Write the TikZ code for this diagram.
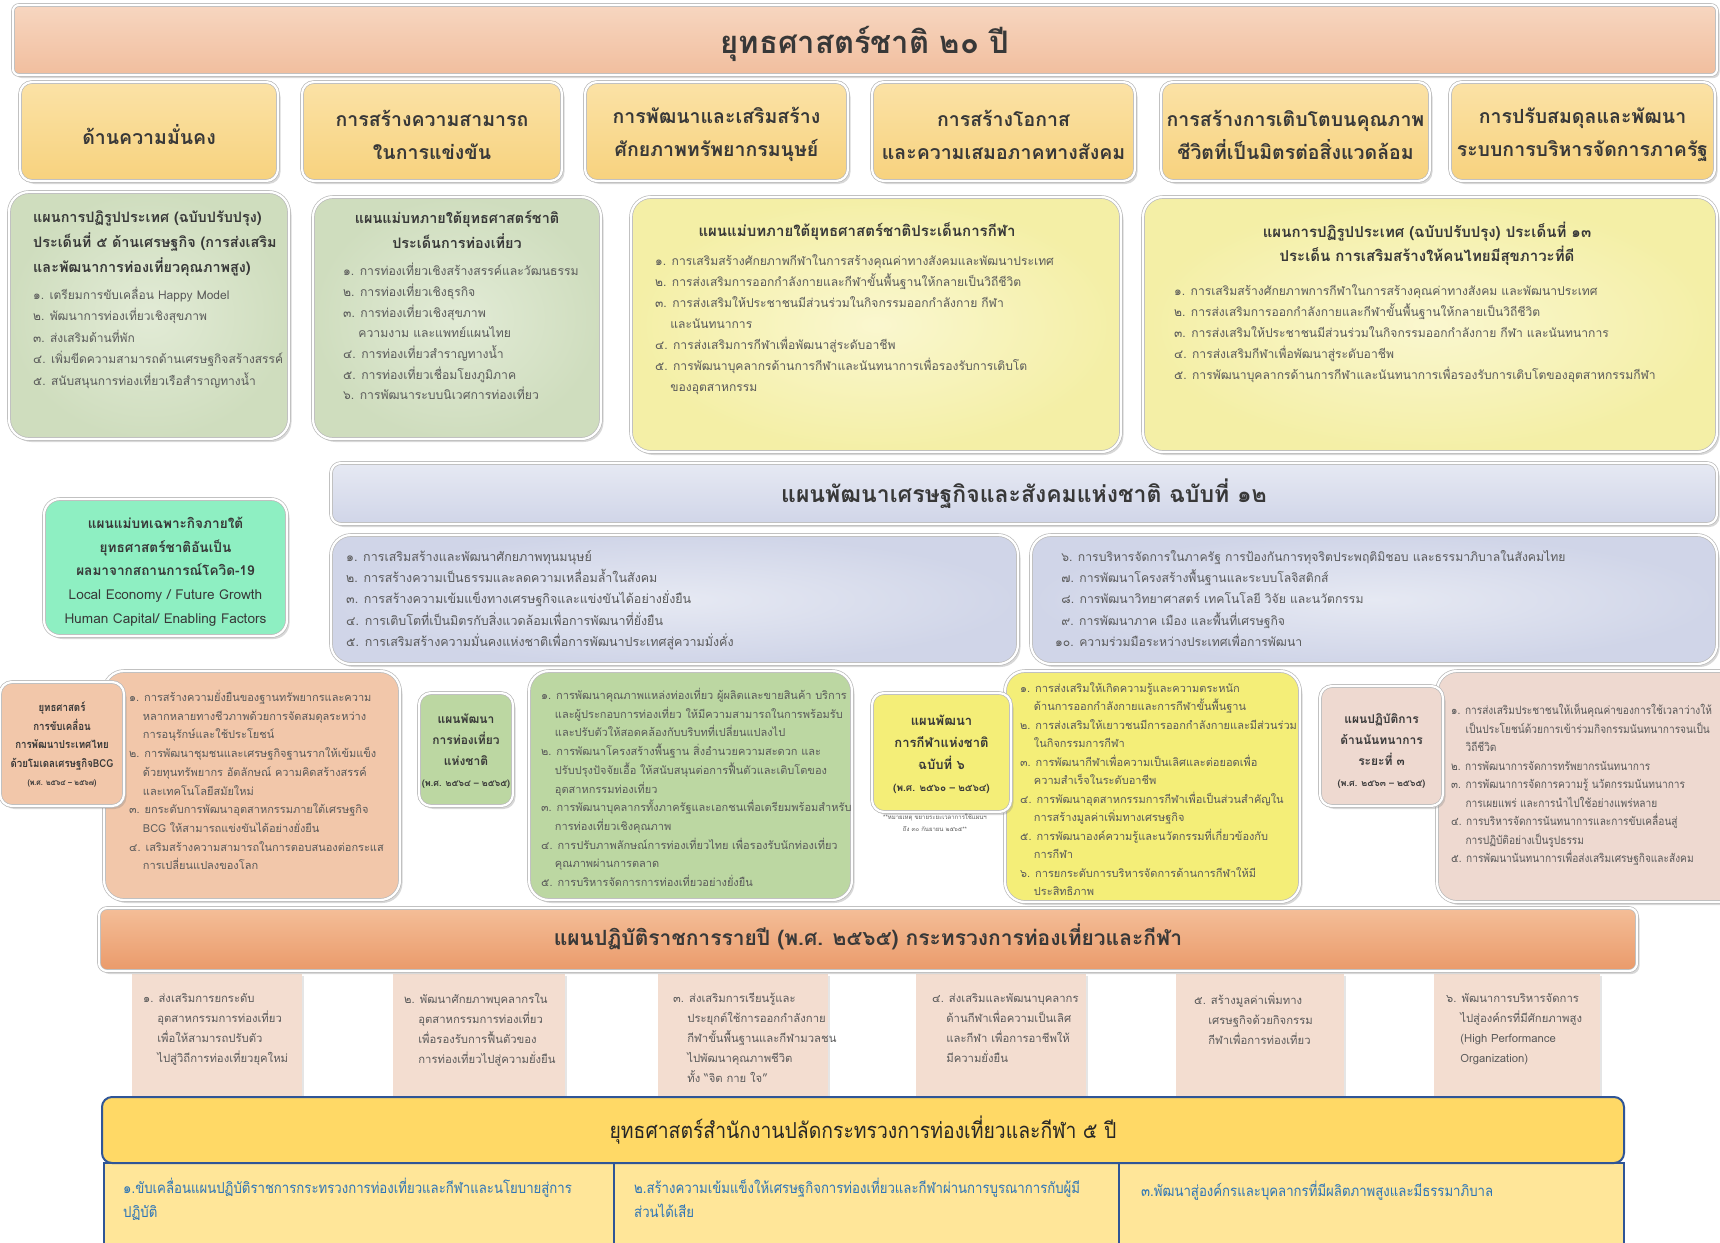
\documentclass[tikz,border=0pt]{standalone}
\usepackage{fontspec}
\setmainfont[Script=Thai]{Loma}
\newfontfamily\cond[Script=Thai,FakeStretch=0.88]{Loma}
\usetikzlibrary{shadows,fit}
\definecolor{peach}{HTML}{F1BE9E}
\definecolor{peachlt}{HTML}{F7D6C0}
\definecolor{gold}{HTML}{F7D27E}
\definecolor{goldlt}{HTML}{FBE2A6}
\definecolor{sage}{HTML}{CFDDBE}
\definecolor{sagelt}{HTML}{E2EBD6}
\definecolor{cream}{HTML}{F4EFA6}
\definecolor{creamlt}{HTML}{FAF7CF}
\definecolor{mint}{HTML}{8EEFC2}
\definecolor{lav}{HTML}{D0D5E8}
\definecolor{lavlt}{HTML}{E6E9F3}
\definecolor{bcg}{HTML}{F2C7AA}
\definecolor{tgreen}{HTML}{BCD7A2}
\definecolor{syellow}{HTML}{F4EE78}
\definecolor{rpink}{HTML}{EED9D0}
\definecolor{orangeh}{HTML}{EA9A6A}
\definecolor{orangelt}{HTML}{F4BE98}
\definecolor{pinkbox}{HTML}{F3DDD0}
\definecolor{bgold}{HTML}{FFD966}
\definecolor{bgoldlt}{HTML}{FFE699}
\definecolor{navy}{HTML}{2F5597}
\definecolor{bluetxt}{HTML}{2E75B6}
\definecolor{txt}{HTML}{383838}
\definecolor{txtl}{HTML}{5A5A5A}
\newcommand\fs[2]{\fontsize{#1}{#2}\selectfont}
\newcommand\bx[6]{\node[#2, fit={(#3,#4) (#5,#6)}] (#1) {};}
\newcommand\tbx[8]{\node[#2, fit={(#3,#4) (#5,#6)}] (#1) {};
  \node[ct, #7] (#1t) at (#1.center) {#8};}
\newcommand\ind{\hspace*{1.25em}}
\tikzset{
 sh/.style={drop shadow={shadow xshift=2.5pt,shadow yshift=-3pt,opacity=0.3}},
 rim/.style={draw=gray!55, line width=0.7pt, double=white, double distance=2.2pt},
 rb/.style={rounded corners=20pt, rim, inner sep=0pt, sh},
 hdr/.style={rounded corners=8pt, rim, inner sep=0pt, sh},
 sbox/.style={hdr, rounded corners=12pt, top color=goldlt, bottom color=gold},
 stxt/.style={font={\fs{19.5}{33}\bfseries}, yshift=-3pt},
 tbox/.style={rb, rounded corners=12pt},
 ct/.style={align=center, inner sep=0pt, text=txt},
 lst/.style={anchor=north west, inner sep=0pt, align=left, text=txtl},
 hd/.style={inner sep=0pt, text=txt},
 pb/.style={fill=pinkbox, draw=none, inner sep=0pt, drop shadow={shadow xshift=2pt,shadow yshift=-2pt,opacity=0.2}},
 bb/.style={draw=navy, line width=2pt, fill=bgoldlt, inner sep=0pt},
}
\begin{document}
\begin{tikzpicture}[x=1pt,y=-1pt]
\useasboundingbox (0,0) rectangle (1720,1242);
\fill[white] (0,0) rectangle (1720,1242);

% title
\tbx{title}{hdr, rounded corners=6pt, top color=peachlt, bottom color=peach}{13}{5}{1717}{75}{font={\fs{31}{36}\bfseries}, yshift=-3.5pt}{ยุทธศาสตร์ชาติ ๒๐ ปี}

% six strategies
\tbx{s1}{sbox}{20}{82}{278}{181}{stxt}{ด้านความมั่นคง}
\tbx{s2}{sbox}{302}{82}{562}{181}{stxt}{การสร้างความสามารถ\\ในการแข่งขัน}
\tbx{s3}{sbox}{585}{82}{848}{181}{stxt}{การพัฒนาและเสริมสร้าง\\ศักยภาพทรัพยากรมนุษย์}
\tbx{s4}{sbox}{872}{82}{1135}{181}{stxt}{การสร้างโอกาส\\และความเสมอภาคทางสังคม}
\tbx{s5}{sbox}{1161}{82}{1430}{181}{stxt}{การสร้างการเติบโตบนคุณภาพ\\ชีวิตที่เป็นมิตรต่อสิ่งแวดล้อม}
\tbx{s6}{sbox}{1450}{82}{1715}{181}{stxt}{การปรับสมดุลและพัฒนา\\ระบบการบริหารจัดการภาครัฐ}

% row 3
\bx{g1}{rb, inner color=sagelt, outer color=sage}{9}{192}{289}{439}
\node[hd, anchor=north west, align=left, font={\fs{14.4}{25}\bfseries}] (g1h) at (33,210) {แผนการปฏิรูปประเทศ (ฉบับปรับปรุง)\\ประเด็นที่ ๕ ด้านเศรษฐกิจ (การส่งเสริม\\และพัฒนาการท่องเที่ยวคุณภาพสูง)};
\node[lst, font={\fs{12}{21.4}}] (g1l) at (33,287) {๑. เตรียมการขับเคลื่อน Happy Model\\๒. พัฒนาการท่องเที่ยวเชิงสุขภาพ\\๓. ส่งเสริมด้านที่พัก\\๔. เพิ่มขีดความสามารถด้านเศรษฐกิจสร้างสรรค์\\๕. สนับสนุนการท่องเที่ยวเรือสำราญทางน้ำ};

\bx{g2}{rb, inner color=sagelt, outer color=sage}{313}{197}{601}{439}
\node[hd, anchor=north, align=center, font={\fs{14.4}{25}\bfseries}] (g2h) at (457,211) {แผนแม่บทภายใต้ยุทธศาสตร์ชาติ\\ประเด็นการท่องเที่ยว};
\node[lst, font={\fs{12.2}{20.7}}] (g2l) at (343,263) {๑. การท่องเที่ยวเชิงสร้างสรรค์และวัฒนธรรม\\๒. การท่องเที่ยวเชิงธุรกิจ\\๓. การท่องเที่ยวเชิงสุขภาพ\\\ind ความงาม และแพทย์แผนไทย\\๔. การท่องเที่ยวสำราญทางน้ำ\\๕. การท่องเที่ยวเชื่อมโยงภูมิภาค\\๖. การพัฒนาระบบนิเวศการท่องเที่ยว};

\bx{y3}{rb, inner color=creamlt, outer color=cream}{631}{197}{1121}{452}
\node[hd, anchor=north, font={\fs{15}{25}\bfseries}] (y3h) at (857,222) {แผนแม่บทภายใต้ยุทธศาสตร์ชาติประเด็นการกีฬา};
\node[lst, font={\fs{12.1}{21}}] (y3l) at (655,254) {๑. การเสริมสร้างศักยภาพกีฬาในการสร้างคุณค่าทางสังคมและพัฒนาประเทศ\\๒. การส่งเสริมการออกกำลังกายและกีฬาขั้นพื้นฐานให้กลายเป็นวิถีชีวิต\\๓. การส่งเสริมให้ประชาชนมีส่วนร่วมในกิจกรรมออกกำลังกาย กีฬา\\\ind และนันทนาการ\\๔. การส่งเสริมการกีฬาเพื่อพัฒนาสู่ระดับอาชีพ\\๕. การพัฒนาบุคลากรด้านการกีฬาและนันทนาการเพื่อรองรับการเติบโต\\\ind ของอุตสาหกรรม};

\bx{y4}{rb, inner color=creamlt, outer color=cream}{1143}{197}{1717}{452}
\node[hd, anchor=north, align=center, font={\fs{15}{24}\bfseries}] (y4h) at (1427,222) {แผนการปฏิรูปประเทศ (ฉบับปรับปรุง) ประเด็นที่ ๑๓\\ประเด็น การเสริมสร้างให้คนไทยมีสุขภาวะที่ดี};
\node[lst, font={\fs{12.1}{21}}] (y4l) at (1174,284) {๑. การเสริมสร้างศักยภาพการกีฬาในการสร้างคุณค่าทางสังคม และพัฒนาประเทศ\\๒. การส่งเสริมการออกกำลังกายและกีฬาขั้นพื้นฐานให้กลายเป็นวิถีชีวิต\\๓. การส่งเสริมให้ประชาชนมีส่วนร่วมในกิจกรรมออกกำลังกาย กีฬา และนันทนาการ\\๔. การส่งเสริมกีฬาเพื่อพัฒนาสู่ระดับอาชีพ\\๕. การพัฒนาบุคลากรด้านการกีฬาและนันทนาการเพื่อรองรับการเติบโตของอุตสาหกรรมกีฬา};

% row 4
\tbx{cv}{tbox, rounded corners=16pt, fill=mint}{44}{499}{287}{636}{font={\fs{13.6}{23.7}}, yshift=-4pt}{\textbf{แผนแม่บทเฉพาะกิจภายใต้}\\\textbf{ยุทธศาสตร์ชาติอันเป็น}\\\textbf{ผลมาจากสถานการณ์โควิด-19}\\Local Economy / Future Growth\\Human Capital/ Enabling Factors}

\tbx{np}{hdr, rounded corners=10pt, top color=lavlt, bottom color=lav}{331}{463}{1717}{524}{font={\fs{23}{26}\bfseries}, yshift=0pt}{แผนพัฒนาเศรษฐกิจและสังคมแห่งชาติ ฉบับที่ ๑๒}
\bx{npl}{rb, inner color=lavlt, outer color=lav}{331}{535}{1018}{664}
\node[lst, font={\fs{12.5}{21.3}}] (npll) at (346,550) {๑. การเสริมสร้างและพัฒนาศักยภาพทุนมนุษย์\\๒. การสร้างความเป็นธรรมและลดความเหลื่อมล้ำในสังคม\\๓. การสร้างความเข้มแข็งทางเศรษฐกิจและแข่งขันได้อย่างยั่งยืน\\๔. การเติบโตที่เป็นมิตรกับสิ่งแวดล้อมเพื่อการพัฒนาที่ยั่งยืน\\๕. การเสริมสร้างความมั่นคงแห่งชาติเพื่อการพัฒนาประเทศสู่ความมั่งคั่ง};
\bx{npr}{rb, inner color=lavlt, outer color=lav}{1031}{535}{1717}{664}
\node[lst, font={\fs{12.2}{21.3}}] (nprl) at (1055,550) {\ \,๖. การบริหารจัดการในภาครัฐ การป้องกันการทุจริตประพฤติมิชอบ และธรรมาภิบาลในสังคมไทย\\\ \,๗. การพัฒนาโครงสร้างพื้นฐานและระบบโลจิสติกส์\\\ \,๘. การพัฒนาวิทยาศาสตร์ เทคโนโลยี วิจัย และนวัตกรรม\\\ \,๙. การพัฒนาภาค เมือง และพื้นที่เศรษฐกิจ\\๑๐. ความร่วมมือระหว่างประเทศเพื่อการพัฒนา};

% row 5
\bx{bcgl}{rb, fill=bcg}{104}{671}{400}{900}
\node[lst, font={\fs{11}{18.7}}] (bcgll) at (129,690) {๑. การสร้างความยั่งยืนของฐานทรัพยากรและความ\\\ind หลากหลายทางชีวภาพด้วยการจัดสมดุลระหว่าง\\\ind การอนุรักษ์และใช้ประโยชน์\\๒. การพัฒนาชุมชนและเศรษฐกิจฐานรากให้เข้มแข็ง\\\ind ด้วยทุนทรัพยากร อัตลักษณ์ ความคิดสร้างสรรค์\\\ind และเทคโนโลยีสมัยใหม่\\๓. ยกระดับการพัฒนาอุตสาหกรรมภายใต้เศรษฐกิจ\\\ind BCG ให้สามารถแข่งขันได้อย่างยั่งยืน\\๔. เสริมสร้างความสามารถในการตอบสนองต่อกระแส\\\ind การเปลี่ยนแปลงของโลก};
\tbx{bcgt}{tbox, fill=bcg}{0}{682}{124}{806}{font={\cond\fs{11}{18.5}\bfseries}, yshift=-1pt}{ยุทธศาสตร์\\การขับเคลื่อน\\การพัฒนาประเทศไทย\\ด้วยโมเดลเศรษฐกิจBCG\\{\fs{8}{17}(พ.ศ. ๒๕๖๔ – ๒๕๖๗)}}

\tbx{tt}{tbox, fill=tgreen}{419}{693}{513}{806}{font={\fs{12}{21}\bfseries}, yshift=-2pt}{แผนพัฒนา\\การท่องเที่ยว\\แห่งชาติ\\{\fs{9}{20}(พ.ศ. ๒๕๖๔ – ๒๕๖๕)}}
\bx{tl}{rb, fill=tgreen}{529}{671}{852}{900}
\node[lst, font={\fs{11}{18.7}}] (tll) at (541,688) {๑. การพัฒนาคุณภาพแหล่งท่องเที่ยว ผู้ผลิตและขายสินค้า บริการ\\\ind และผู้ประกอบการท่องเที่ยว ให้มีความสามารถในการพร้อมรับ\\\ind และปรับตัวให้สอดคล้องกับบริบทที่เปลี่ยนแปลงไป\\๒. การพัฒนาโครงสร้างพื้นฐาน สิ่งอำนวยความสะดวก และ\\\ind ปรับปรุงปัจจัยเอื้อ ให้สนับสนุนต่อการฟื้นตัวและเติบโตของ\\\ind อุตสาหกรรมท่องเที่ยว\\๓. การพัฒนาบุคลากรทั้งภาครัฐและเอกชนเพื่อเตรียมพร้อมสำหรับ\\\ind การท่องเที่ยวเชิงคุณภาพ\\๔. การปรับภาพลักษณ์การท่องเที่ยวไทย เพื่อรองรับนักท่องเที่ยว\\\ind คุณภาพผ่านการตลาด\\๕. การบริหารจัดการการท่องเที่ยวอย่างยั่งยืน};

\bx{sl}{rb, fill=syellow}{1005}{671}{1300}{902}
\tbx{st}{tbox, fill=syellow}{872}{693}{1011}{812}{font={\fs{13}{22}\bfseries}, yshift=-2pt}{แผนพัฒนา\\การกีฬาแห่งชาติ\\ฉบับที่ ๖\\{\fs{10}{22}(พ.ศ. ๒๕๖๐ – ๒๕๖๔)}}
\node[anchor=north, inner sep=0pt, align=center, text=txtl, font={\fs{6}{12}}] (stn) at (935,814) {**หมายเหตุ ขยายระยะเวลาการใช้แผนฯ\\ถึง ๓๐ กันยายน ๒๕๖๕**};
\node[lst, font={\fs{11}{18.5}}] (sll) at (1020,682) {๑. การส่งเสริมให้เกิดความรู้และความตระหนัก\\\ind ด้านการออกกำลังกายและการกีฬาขั้นพื้นฐาน\\๒. การส่งเสริมให้เยาวชนมีการออกกำลังกายและมีส่วนร่วม\\\ind ในกิจกรรมการกีฬา\\๓. การพัฒนากีฬาเพื่อความเป็นเลิศและต่อยอดเพื่อ\\\ind ความสำเร็จในระดับอาชีพ\\๔. การพัฒนาอุตสาหกรรมการกีฬาเพื่อเป็นส่วนสำคัญใน\\\ind การสร้างมูลค่าเพิ่มทางเศรษฐกิจ\\๕. การพัฒนาองค์ความรู้และนวัตกรรมที่เกี่ยวข้องกับ\\\ind การกีฬา\\๖. การยกระดับการบริหารจัดการด้านการกีฬาให้มี\\\ind ประสิทธิภาพ};

\bx{rl}{rb, fill=rpink}{1437}{671}{1745}{902}
\tbx{rt}{tbox, fill=rpink}{1320}{686}{1443}{806}{font={\fs{12}{21}\bfseries}, yshift=-5pt}{แผนปฏิบัติการ\\ด้านนันทนาการ\\ระยะที่ ๓\\{\fs{9}{18}(พ.ศ. ๒๕๖๓ – ๒๕๖๕)}}
\node[lst, font={\cond\fs{11.5}{18.5}}] (rll) at (1451,704) {๑. การส่งเสริมประชาชนให้เห็นคุณค่าของการใช้เวลาว่างให้\\\ind เป็นประโยชน์ด้วยการเข้าร่วมกิจกรรมนันทนาการจนเป็น\\\ind วิถีชีวิต\\๒. การพัฒนาการจัดการทรัพยากรนันทนาการ\\๓. การพัฒนาการจัดการความรู้ นวัตกรรมนันทนาการ\\\ind การเผยแพร่ และการนำไปใช้อย่างแพร่หลาย\\๔. การบริหารจัดการนันทนาการและการขับเคลื่อนสู่\\\ind การปฏิบัติอย่างเป็นรูปธรรม\\๕. การพัฒนานันทนาการเพื่อส่งเสริมเศรษฐกิจและสังคม};

% row 6 boxes
\bx{p1}{pb}{132}{974}{302}{1100}
\bx{p2}{pb}{393}{974}{565}{1100}
\bx{p3}{pb}{658}{974}{828}{1100}
\bx{p4}{pb}{916}{974}{1086}{1100}
\bx{p5}{pb}{1176}{974}{1344}{1100}
\bx{p6}{pb}{1434}{974}{1600}{1100}
\node[lst, font={\fs{11.3}{20}}] (p1t) at (143,993) {๑. ส่งเสริมการยกระดับ\\\ind อุตสาหกรรมการท่องเที่ยว\\\ind เพื่อให้สามารถปรับตัว\\\ind ไปสู่วิถีการท่องเที่ยวยุคใหม่};
\node[lst, font={\fs{11.3}{20}}] (p2t) at (404,993) {๒. พัฒนาศักยภาพบุคลากรใน\\\ind อุตสาหกรรมการท่องเที่ยว\\\ind เพื่อรองรับการฟื้นตัวของ\\\ind การท่องเที่ยวไปสู่ความยั่งยืน};
\node[lst, font={\fs{11.3}{20}}] (p3t) at (673,993) {๓. ส่งเสริมการเรียนรู้และ\\\ind ประยุกต์ใช้การออกกำลังกาย\\\ind กีฬาขั้นพื้นฐานและกีฬามวลชน\\\ind ไปพัฒนาคุณภาพชีวิต\\\ind ทั้ง “จิต กาย ใจ”};
\node[lst, font={\fs{11.3}{20}}] (p4t) at (932,993) {๔. ส่งเสริมและพัฒนาบุคลากร\\\ind ด้านกีฬาเพื่อความเป็นเลิศ\\\ind และกีฬา เพื่อการอาชีพให้\\\ind มีความยั่งยืน};
\node[lst, font={\fs{11.3}{20}}] (p5t) at (1194,993) {๕. สร้างมูลค่าเพิ่มทาง\\\ind เศรษฐกิจด้วยกิจกรรม\\\ind กีฬาเพื่อการท่องเที่ยว};
\node[lst, font={\fs{11.3}{20}}] (p6t) at (1446,993) {๖. พัฒนาการบริหารจัดการ\\\ind ไปสู่องค์กรที่มีศักยภาพสูง\\\ind (High Performance\\\ind Organization)};

% annual plan header
\tbx{ap}{hdr, rounded corners=8pt, top color=orangelt, bottom color=orangeh}{99}{908}{1637}{971}{font={\fs{21}{24}\bfseries}, yshift=2.5pt}{แผนปฏิบัติราชการรายปี (พ.ศ. ๒๕๖๕) กระทรวงการท่องเที่ยวและกีฬา}

% bottom
\bx{b1}{bb}{104}{1163}{614}{1250}
\bx{b2}{bb}{614}{1163}{1119}{1250}
\bx{b3}{bb}{1119}{1163}{1624}{1250}
\node[lst, text=bluetxt, font={\cond\fs{15}{24}}] (b1t) at (123,1178) {๑.ขับเคลื่อนแผนปฏิบัติราชการกระทรวงการท่องเที่ยวและกีฬาและนโยบายสู่การ\\ปฏิบัติ};
\node[lst, text=bluetxt, font={\cond\fs{15}{24}}] (b2t) at (634,1178) {๒.สร้างความเข้มแข็งให้เศรษฐกิจการท่องเที่ยวและกีฬาผ่านการบูรณาการกับผู้มี\\ส่วนได้เสีย};
\node[lst, text=bluetxt, font={\cond\fs{15}{24}}] (b3t) at (1141,1181) {๓.พัฒนาสู่องค์กรและบุคลากรที่มีผลิตภาพสูงและมีธรรมาภิบาล};
\tbx{bs}{rounded corners=10pt, draw=navy, line width=2pt, fill=bgold, inner sep=0pt}{102}{1097}{1624}{1163}{text=black!85, font={\cond\fs{22}{26}}, yshift=-0.5pt}{ยุทธศาสตร์สำนักงานปลัดกระทรวงการท่องเที่ยวและกีฬา ๕ ปี}
\end{tikzpicture}
\end{document}
